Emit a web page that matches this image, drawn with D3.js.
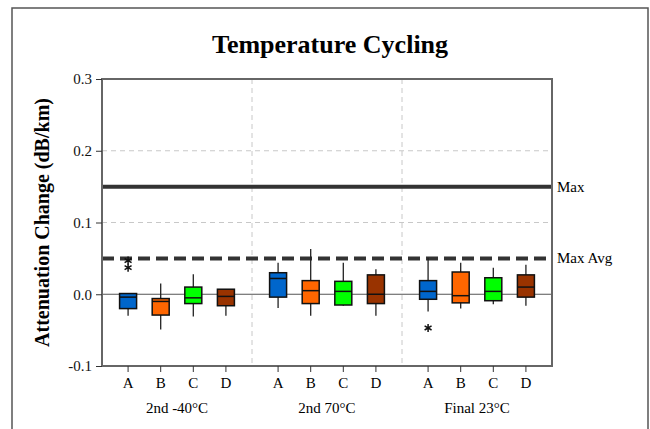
<!DOCTYPE html>
<html>
<head>
<meta charset="utf-8">
<script src="https://cdn.jsdelivr.net/npm/d3@7"></script>
<style>
  body { margin: 0; background: #fff; }
  text { font-family: "Liberation Serif", "Times New Roman", serif; }
</style>
</head>
<body>
<svg id="graphic"></svg>
<script>
  // data
  var groups = ["2nd -40°C", "2nd 70°C", "Final 23°C"];
  var cats = ["A", "B", "C", "D"];
  var colors = ["#0066CC", "#FF6600", "#00FF00", "#993300"];
  // per group, per category: [low whisker, q1, median, q3, high whisker]
  var g1 = [[-0.030, -0.020, -0.004, 0.001, 0.001],
            [-0.049, -0.029, -0.010, -0.006, 0.015],
            [-0.031, -0.013, -0.005, 0.010, 0.028],
            [-0.030, -0.016, -0.003, 0.007, 0.007]];
  var g2 = [[-0.019, -0.004, 0.022, 0.030, 0.044],
            [-0.030, -0.013, 0.005, 0.019, 0.063],
            [-0.016, -0.015, 0.004, 0.018, 0.044],
            [-0.030, -0.013, 0.000, 0.027, 0.035]];
  var g3 = [[-0.024, -0.007, 0.004, 0.019, 0.051],
            [-0.020, -0.012, -0.002, 0.031, 0.044],
            [-0.014, -0.009, 0.004, 0.023, 0.037],
            [-0.016, -0.004, 0.010, 0.027, 0.041]];
  var outliers = [{g: 0, c: 0, v: 0.047}, {g: 0, c: 0, v: 0.037}, {g: 2, c: 0, v: -0.047}];
  var limits = [{name: "Max", v: 0.15}, {name: "Max Avg", v: 0.05}];
  var yTicks = [-0.1, 0.0, 0.1, 0.2, 0.3];

  var stats = [g1, g2, g3];
  var svgWidth = 650, svgHeight = 429;
  var pLeft = 102, pRight = 552, pTop = 79, pBottom = 366;

  var svg = d3.select('#graphic')
    .attr("width", svgWidth)
    .attr("height", svgHeight);

  // outer frame
  svg.append("rect")
    .attr("x", 12).attr("y", 8).attr("width", 636).attr("height", 440)
    .attr("fill", "none").attr("stroke", "#555").attr("stroke-width", 1.5);

  svg.append("text")
    .attr("x", 330).attr("y", 53)
    .attr("text-anchor", "middle")
    .attr("font-size", 26).attr("font-weight", "bold")
    .text("Temperature Cycling");

  var y = d3.scaleLinear().domain([-0.1, 0.3]).range([pBottom, pTop]);
  var xg = d3.scaleBand().domain(groups).range([pLeft, pRight]);
  var xc = d3.scalePoint().domain(cats).range([0, xg.bandwidth()]).padding(0.8);

  // gridlines
  svg.selectAll(".hgrid").data([0.1, 0.2]).enter().append("line")
    .attr("x1", pLeft).attr("x2", pRight)
    .attr("y1", d => y(d)).attr("y2", d => y(d))
    .attr("stroke", "#c8c8c8").attr("stroke-dasharray", "5,4");
  svg.selectAll(".vgrid").data(groups.slice(1)).enter().append("line")
    .attr("x1", d => xg(d)).attr("x2", d => xg(d))
    .attr("y1", pTop).attr("y2", pBottom)
    .attr("stroke", "#c8c8c8").attr("stroke-dasharray", "5,4");

  // zero line
  svg.append("line")
    .attr("x1", pLeft).attr("x2", pRight)
    .attr("y1", y(0)).attr("y2", y(0))
    .attr("stroke", "#555").attr("stroke-width", 1.2);

  // limit lines
  svg.selectAll(".limit").data(limits).enter().append("line")
    .attr("x1", pLeft).attr("x2", pRight)
    .attr("y1", d => y(d.v)).attr("y2", d => y(d.v))
    .attr("stroke", "#333").attr("stroke-width", 4)
    .attr("stroke-dasharray", (d, i) => i == 1 ? "12,6" : null);
  svg.selectAll(".limitlabel").data(limits).enter().append("text")
    .attr("x", pRight + 5).attr("y", d => y(d.v) + 5)
    .attr("font-size", 15)
    .text(d => d.name);

  // boxes
  var boxW = 17;
  var boxes = [];
  stats.forEach(function(gs, gi) {
    gs.forEach(function(s, ci) {
      boxes.push({g: groups[gi], c: cats[ci], ci: ci, s: s});
    });
  });
  var bx = function(d) { return xg(d.g) + xc(d.c); };

  var box = svg.selectAll(".box").data(boxes).enter().append("g");
  box.append("line")
    .attr("x1", bx).attr("x2", bx)
    .attr("y1", d => y(d.s[0])).attr("y2", d => y(d.s[4]))
    .attr("stroke", "#222").attr("stroke-width", 1.3);
  box.append("rect")
    .attr("x", d => bx(d) - boxW / 2).attr("width", boxW)
    .attr("y", d => y(d.s[3])).attr("height", d => y(d.s[1]) - y(d.s[3]))
    .attr("fill", d => colors[d.ci])
    .attr("stroke", "#111").attr("stroke-width", 1.5);
  box.append("line")
    .attr("x1", d => bx(d) - boxW / 2).attr("x2", d => bx(d) + boxW / 2)
    .attr("y1", d => y(d.s[2])).attr("y2", d => y(d.s[2]))
    .attr("stroke", "#111").attr("stroke-width", 1.5);

  // outliers
  svg.selectAll(".out").data(outliers).enter().append("path")
    .attr("d", d3.symbol().type(d3.symbolAsterisk).size(45))
    .attr("transform", d => "translate(" + (xg(groups[d.g]) + xc(cats[d.c])) + "," + y(d.v) + ")")
    .attr("fill", "none").attr("stroke", "#111").attr("stroke-width", 1.5);

  // plot frame
  svg.append("rect")
    .attr("x", pLeft).attr("y", pTop).attr("width", pRight - pLeft).attr("height", pBottom - pTop)
    .attr("fill", "none").attr("stroke", "#666").attr("stroke-width", 2);

  // axes
  var yAxis = svg.append("g")
    .attr("transform", "translate(" + pLeft + ",0)")
    .call(d3.axisLeft(y).tickValues(yTicks)
      .tickFormat(d => d3.format(".1f")(d).replace("−", "-"))
      .tickSize(6).tickPadding(4));
  yAxis.select(".domain").remove();
  yAxis.selectAll("text").attr("font-size", 15).attr("fill", "#111")
    .attr("font-family", "Liberation Serif, serif");
  yAxis.selectAll("line").attr("stroke", "#333");

  var xTicks = [];
  groups.forEach(function(g) { cats.forEach(function(c) { xTicks.push({g: g, c: c}); }); });
  var xt = svg.selectAll(".xt").data(xTicks).enter().append("g")
    .attr("transform", d => "translate(" + bx(d) + "," + pBottom + ")");
  xt.append("line").attr("y1", 0).attr("y2", 6).attr("stroke", "#333");
  xt.append("text").attr("y", 22).attr("text-anchor", "middle")
    .attr("font-size", 15).text(d => d.c);

  svg.selectAll(".glabel").data(groups).enter().append("text")
    .attr("x", d => xg(d) + xg.bandwidth() / 2).attr("y", 413)
    .attr("text-anchor", "middle").attr("font-size", 15)
    .text(d => d);

  svg.append("text")
    .attr("transform", "translate(49," + ((pTop + pBottom) / 2) + ") rotate(-90)")
    .attr("text-anchor", "middle")
    .attr("font-size", 20).attr("font-weight", "bold")
    .text("Attenuation Change (dB/km)");
</script>
</body>
</html>
